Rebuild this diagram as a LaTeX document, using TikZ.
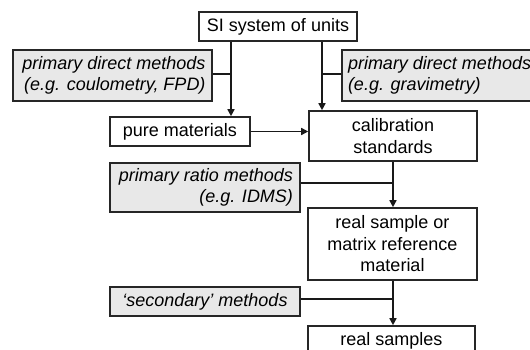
\documentclass[tikz,border=0pt]{standalone}
\usepackage{fontspec}
\setmainfont{Liberation Sans}
\usetikzlibrary{arrows.meta}
\begin{document}
\begin{tikzpicture}[x=1pt,y=-1pt,
  font=\fontsize{18}{21.5}\selectfont,
  box/.style={draw=black!85,line width=1.6pt,fill=white,inner sep=0pt,align=center},
  gbox/.style={draw=black!85,line width=1.6pt,fill=black!9,inner sep=0pt,font=\fontsize{18}{21.5}\selectfont\itshape},
  conn/.style={line width=1.6pt,draw=black!90},
  arr/.style={conn,-{Triangle[length=7pt,width=7pt]}}]
\useasboundingbox (0,0) rectangle (530,350);
\clip (0,0) rectangle (530,350);
\node[box,minimum width=158pt,minimum height=29pt] (si) at (278,26.5) {SI system of units};
\node[gbox,minimum width=199pt,minimum height=51pt,text width=186pt,align=flush right] (lg) at (112.5,75.5) {primary direct methods\\(e.g. coulometry, FPD)};
\node[gbox,minimum width=204pt,minimum height=51pt,text width=192pt,align=flush left] (rg) at (444,75.5) {primary direct methods\\(e.g. gravimetry)};
\node[box,minimum width=140pt,minimum height=29pt] (pm) at (180,131.5) {pure materials};
\node[box,minimum width=168pt,minimum height=50pt] (cs) at (393,136) {calibration\\standards};
\node[gbox,minimum width=190pt,minimum height=49pt,text width=176pt,align=flush right] (pr) at (205,187.5) {primary ratio methods\\(e.g. IDMS)};
\node[box,minimum width=169pt,minimum height=72pt] (rs) at (392.5,244) {real sample or\\matrix reference\\material};
\node[gbox,minimum width=190pt,minimum height=29pt,align=center] (sm) at (205,301.5) {‘secondary’ methods};
\node[box,minimum width=167pt,minimum height=29pt] (rr) at (391.5,340.5) {real samples};
\coordinate (j1) at (231,74);
\coordinate (j2) at (322,74);
\coordinate (j3) at (393,183);
\coordinate (j4) at (393,299);
\draw[arr] (si.south -| j1) -- (pm.north -| j1);
\draw[conn] (lg.east |- j1) -- (j1);
\draw[arr] (si.south -| j2) -- (cs.north -| j2);
\draw[conn] (rg.west |- j2) -- (j2);
\draw[arr] (pm.east) -- (cs.west |- pm.east);
\draw[arr] (cs.south -| j3) -- (rs.north -| j3);
\draw[conn] (pr.east |- j3) -- (j3);
\draw[arr] (rs.south -| j4) -- (rr.north -| j4);
\draw[conn] (sm.east |- j4) -- (j4);
\end{tikzpicture}
\end{document}
